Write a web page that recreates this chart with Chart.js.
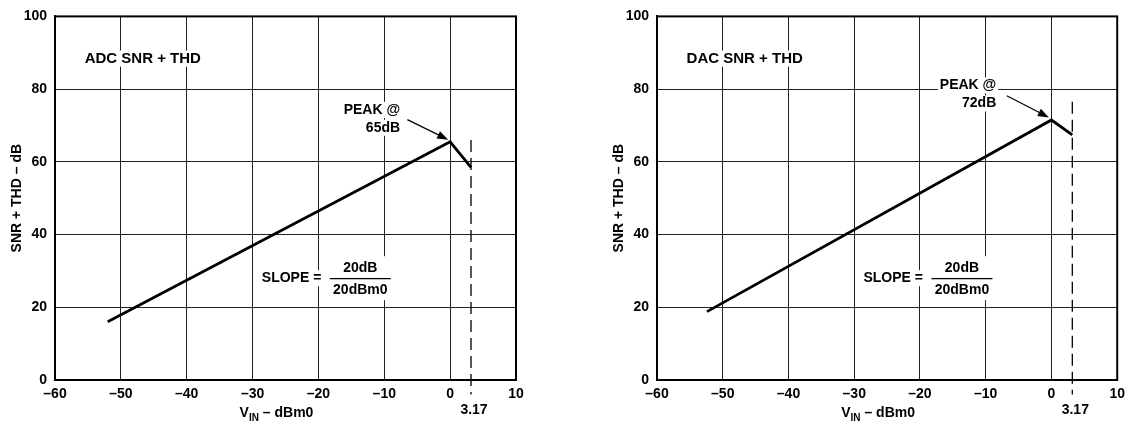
<!DOCTYPE html>
<html>
<head>
<meta charset="utf-8">
<script src="https://cdn.jsdelivr.net/npm/chart.js@4.4.1/dist/chart.umd.min.js"></script>
<style>
body{margin:0;background:#fff;width:1131px;height:426px;overflow:hidden;position:relative}
.box{position:absolute;top:0;height:426px}
</style>
</head>
<body>
<div class="box" style="left:0;width:566px"><canvas id="adc"></canvas></div>
<div class="box" style="left:602px;width:529px"><canvas id="dac"></canvas></div>
<script>
// axis ticks
const xTicks = [-60, -50, -40, -30, -20, -10, 0, 10]
const yTicks = [0, 20, 40, 60, 80, 100]

// ADC curve (V_IN in dBm0, SNR+THD in dB)
const adcX = [-52, 0, 3.17]
const adcY = [16, 65.5, 58.5]

// DAC curve
const dacX = [-52.4, 0, 3.17]
const dacY = [18.8, 71.5, 67.4]

// clipping level marker
const clipLevel = 3.17
const adcMarkerY = [66, -4]
const dacMarkerY = [76.5, -4]

const FAMILY = '"Liberation Sans", Arial, Helvetica, sans-serif'
const FONT = 'bold 14px ' + FAMILY
Chart.defaults.font.family = FAMILY

function dash(v){ return String(v).replace('-', '\u2013') }

function boxText(ctx, text, x, y, align, font){
  ctx.font = font || FONT
  ctx.textAlign = align
  ctx.textBaseline = 'middle'
  const w = ctx.measureText(text).width
  const left = align === 'left' ? x : align === 'right' ? x - w : x - w / 2
  ctx.fillStyle = '#fff'
  ctx.fillRect(left - 2, y - 8, w + 4, 16)
  ctx.fillStyle = '#000'
  ctx.fillText(text, x, y)
}

const notes = {
  id: 'notes',
  afterDraw(chart, args, o){
    const ctx = chart.ctx
    const xs = chart.scales.x, ys = chart.scales.y
    const a = chart.chartArea
    ctx.save()

    // heavy frame
    ctx.strokeStyle = '#000'
    ctx.lineWidth = 2
    ctx.strokeRect(a.left, a.top, a.right - a.left, a.bottom - a.top)

    // chart title in the corner
    boxText(ctx, o.title, xs.getPixelForValue(o.titleAt[0]), ys.getPixelForValue(o.titleAt[1]), 'left', 'bold 15px ' + FAMILY)

    // peak label + arrow
    const px = xs.getPixelForValue(o.peakAt[0])
    boxText(ctx, 'PEAK @', px, ys.getPixelForValue(o.peakAt[1]), 'right')
    boxText(ctx, o.peak, px, ys.getPixelForValue(o.peakAt[1]) + 18, 'right')
    const x0 = xs.getPixelForValue(o.arrow[0]), y0 = ys.getPixelForValue(o.arrow[1])
    const x1 = xs.getPixelForValue(o.arrow[2]), y1 = ys.getPixelForValue(o.arrow[3])
    const ang = Math.atan2(y1 - y0, x1 - x0)
    ctx.strokeStyle = '#000'
    ctx.lineWidth = 1.2
    ctx.beginPath()
    ctx.moveTo(x0, y0)
    ctx.lineTo(x1 - 8 * Math.cos(ang), y1 - 8 * Math.sin(ang))
    ctx.stroke()
    ctx.fillStyle = '#000'
    ctx.beginPath()
    ctx.moveTo(x1, y1)
    ctx.lineTo(x1 - 11 * Math.cos(ang) + 4 * Math.sin(ang), y1 - 11 * Math.sin(ang) - 4 * Math.cos(ang))
    ctx.lineTo(x1 - 11 * Math.cos(ang) - 4 * Math.sin(ang), y1 - 11 * Math.sin(ang) + 4 * Math.cos(ang))
    ctx.closePath()
    ctx.fill()

    // slope note
    const sx = xs.getPixelForValue(o.slopeAt[0]), sy = ys.getPixelForValue(o.slopeAt[1])
    boxText(ctx, 'SLOPE =', sx, sy, 'left')
    ctx.font = FONT
    const fx = sx + 68, fw = 61
    ctx.fillStyle = '#fff'
    ctx.fillRect(fx - 2, sy - 22, fw + 4, 44)
    ctx.fillStyle = '#000'
    ctx.textAlign = 'center'
    ctx.textBaseline = 'middle'
    ctx.fillText('20dB', fx + fw / 2, sy - 10)
    ctx.fillText('20dBm0', fx + fw / 2, sy + 12)
    ctx.lineWidth = 1.2
    ctx.beginPath()
    ctx.moveTo(fx, sy + 0.5)
    ctx.lineTo(fx + fw, sy + 0.5)
    ctx.stroke()

    // clip level label under the axis
    ctx.font = FONT
    ctx.textAlign = 'center'
    ctx.textBaseline = 'middle'
    ctx.fillText(String(clipLevel), xs.getPixelForValue(clipLevel) + 3, 410)

    // x axis title with subscript
    const cx = (a.left + a.right) / 2 - 9
    ctx.font = FONT
    const wV = ctx.measureText('V').width
    const wRest = ctx.measureText(' \u2013 dBm0').width
    ctx.font = 'bold 10px ' + FAMILY
    const wIN = ctx.measureText('IN').width
    const tx = cx - (wV + wIN + wRest) / 2
    ctx.textAlign = 'left'
    ctx.font = FONT
    ctx.fillText('V', tx, 413)
    ctx.font = 'bold 10px ' + FAMILY
    ctx.fillText('IN', tx + wV, 418)
    ctx.font = FONT
    ctx.fillText(' \u2013 dBm0', tx + wV + wIN, 413)

    ctx.restore()
  }
}

function makeChart(id, xs, ys, markerY, padRight, note){
  return new Chart(document.getElementById(id), {
    type: 'line',
    data: {
      datasets: [{
        data: xs.map((x, i) => ({x: x, y: ys[i]})),
        borderColor: '#000',
        borderWidth: 2.8,
        pointRadius: 0,
        tension: 0
      }, {
        data: markerY.map(y => ({x: clipLevel, y: y})),
        borderColor: '#000',
        borderWidth: 1.3,
        borderDash: [12, 6],
        pointRadius: 0,
        clip: false
      }]
    },
    options: {
      responsive: true,
      maintainAspectRatio: false,
      animation: false,
      layout: {autoPadding: false, padding: {left: 0, right: padRight, top: 12, bottom: 0}},
      plugins: {legend: {display: false}, tooltip: {enabled: false}, notes: note},
      scales: {
        x: {
          type: 'linear', min: -60, max: 10,
          afterBuildTicks: s => { s.ticks = xTicks.map(v => ({value: v})) },
          afterFit: s => { s.height = 46 },
          grid: {color: '#222', lineWidth: 1, drawTicks: false},
          border: {color: '#000', width: 2},
          ticks: {color: '#000', padding: 6, font: {size: 14, weight: 'bold'}, callback: v => dash(v)}
        },
        y: {
          min: 0, max: 100,
          afterBuildTicks: s => { s.ticks = yTicks.map(v => ({value: v})) },
          afterFit: s => { s.width = 55 },
          grid: {color: '#222', lineWidth: 1, drawTicks: false},
          border: {color: '#000', width: 2},
          ticks: {color: '#000', padding: 8, font: {size: 14, weight: 'bold'}},
          title: {display: true, text: 'SNR + THD \u2013 dB', color: '#000', font: {size: 14, weight: 'bold'}, padding: {top: 9, bottom: 0}}
        }
      }
    },
    plugins: [notes]
  })
}

makeChart('adc', adcX, adcY, adcMarkerY, 50, {
  title: 'ADC SNR + THD', titleAt: [-55.5, 88.4],
  peak: '65dB', peakAt: [-7.6, 74.3],
  arrow: [-6.5, 71.6, -0.3, 66.1],
  slopeAt: [-28.6, 28]
})

makeChart('dac', dacX, dacY, dacMarkerY, 13, {
  title: 'DAC SNR + THD', titleAt: [-55.5, 88.4],
  peak: '72dB', peakAt: [-8.4, 81],
  arrow: [-6.8, 78.2, -0.4, 72.2],
  slopeAt: [-28.6, 28]
})
</script>
</body>
</html>
